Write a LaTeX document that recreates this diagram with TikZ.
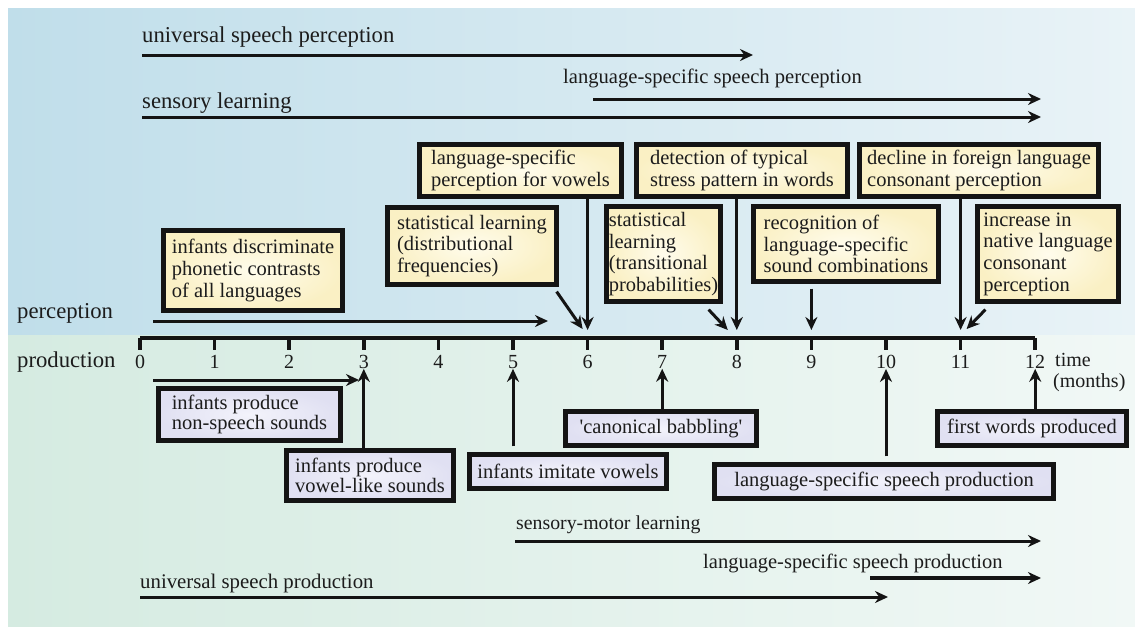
\documentclass[tikz,border=0pt]{standalone}
\usepackage{fontspec}
\setmainfont{Liberation Serif}[Ligatures=TeXOff]
\usetikzlibrary{arrows.meta}
\definecolor{bluel}{RGB}{192,222,234}
\definecolor{bluer}{RGB}{233,243,247}
\definecolor{greenl}{RGB}{213,235,225}
\definecolor{greenr}{RGB}{241,248,246}
\definecolor{inkc}{RGB}{20,20,20}
\definecolor{txt}{RGB}{28,28,28}
\definecolor{yout}{RGB}{250,240,196}
\definecolor{yin}{RGB}{255,252,236}
\definecolor{pout}{RGB}{224,224,242}
\definecolor{pin}{RGB}{243,243,251}
\begin{document}
\begin{tikzpicture}[x=1pt,y=-1pt,
  ink/.style={draw=inkc, line width=4.2pt},
  ybox/.style={ink, inner color=yin, outer color=yout, align=left, inner sep=0pt, text=txt, font=\fontsize{20.5}{21.6}\selectfont},
  pbox/.style={ink, inner color=pin, outer color=pout, align=left, inner sep=0pt, text=txt, font=\fontsize{20.5}{20.4}\selectfont},
  arr/.style={draw=inkc, line width=3pt, -{Stealth[length=13pt,width=12pt]}},
  biglbl/.style={anchor=west, inner sep=0pt, text=txt, font=\fontsize{22.7}{24}\selectfont},
  lbl/.style={anchor=west, inner sep=0pt, text=txt, font=\fontsize{20.5}{22}\selectfont},
  ticklbl/.style={inner sep=0pt, text=txt, font=\fontsize{20}{22}\selectfont},
  axisline/.style={draw=inkc, line width=3.5pt}
]
\useasboundingbox (0,0) rectangle (1135,627);
\fill[left color=bluel, right color=bluer] (8,8) rectangle (1135,335);
\fill[left color=greenl, right color=greenr] (8,335) rectangle (1135,626);

% top long arrows
\node[biglbl] (uspl) at (142,37) {universal speech perception};
\coordinate (up0) at (142,55); \coordinate (up1) at (753,55);
\draw[arr] (up0) -- (up1);
\node[lbl, font=\fontsize{20.6}{22}\selectfont] (lspl) at (563,78) {language-specific speech perception};
\coordinate (lp0) at (593,99); \coordinate (lp1) at (1041,99);
\draw[arr] (lp0) -- (lp1);
\node[biglbl] (sll) at (142,103) {sensory learning};
\coordinate (sl0) at (142,117); \coordinate (sl1) at (1041,117);
\draw[arr] (sl0) -- (sl1);

% side labels
\node[biglbl] (perc) at (17,313) {perception};
\node[biglbl] (prod) at (17,362) {production};

% axis
\foreach \m in {0,...,12} {
  \coordinate (t\m) at ({140+74.6*\m},338);
  \node[ticklbl] (l\m) at ({140+74.6*\m},362) {\m};
}
\draw[axisline] (t0) -- (t12);
\foreach \m in {0,...,12} { \draw[axisline] (t\m) -- ++(0,12); }
\node[lbl, font=\fontsize{20}{22}\selectfont] (time) at (1055,360) {time};
\node[lbl, font=\fontsize{20}{22}\selectfont] (months) at (1053,383) {(months)};

% perception boxes
\node[ybox, minimum width=179pt, minimum height=80pt] (disc) at (253,270.5) {infants discriminate\\phonetic contrasts\\of all languages};
\node[ybox, minimum width=169pt, minimum height=77pt] (dist) at (472,246) {statistical learning\\(distributional\\frequencies)};
\node[ybox, minimum width=202pt, minimum height=52pt] (vow) at (520.5,170.5) {language-specific\\perception for vowels};
\node[ybox, minimum width=114pt, minimum height=95pt] (trans) at (663.5,254) {statistical\\learning\\(transitional\\probabilities)};
\node[ybox, minimum width=211pt, minimum height=52pt] (det) at (742,170.5) {detection of typical\\stress pattern in words};
\node[ybox, minimum width=185pt, minimum height=75pt] (recog) at (846,244) {recognition of\\language-specific\\sound combinations};
\node[ybox, minimum width=239pt, minimum height=52pt] (decl) at (979,170.5) {decline in foreign language\\consonant perception};
\node[ybox, minimum width=141pt, minimum height=95pt] (incr) at (1048,254) {increase in\\native language\\consonant\\perception};

% perception arrows
\coordinate (pa0) at (153,321); \coordinate (pa1) at (548,321);
\draw[arr] (pa0) -- (pa1);
\draw[arr, shorten >=8pt] (vow.south -| t6) -- (t6);
\draw[arr] ([xshift=-2pt,yshift=-5pt]dist.south east) -- ([xshift=-5pt,yshift=9pt]t6);
\draw[arr, shorten >=8pt] (det.south -| t8) -- (t8);
\draw[arr] ([xshift=-14pt,yshift=-6pt]trans.south east) -- ([xshift=-9pt,yshift=8pt]t8);
\draw[arr, shorten <=5pt, shorten >=8pt] (recog.south -| t9) -- (t9);
\draw[arr, shorten >=8pt] (decl.south -| t11) -- (t11);
\draw[arr] ([xshift=10pt,yshift=-6pt]incr.south west) -- ([xshift=6pt,yshift=9pt]t11);

% production boxes
\node[pbox, minimum width=182pt, minimum height=52pt] (nonsp) at (249.5,414.5) {infants produce\\non-speech sounds};
\node[pbox, minimum width=167pt, minimum height=50pt] (vowl) at (370,475.5) {infants produce\\vowel-like sounds};
\node[pbox, minimum width=197pt, minimum height=34pt] (imit) at (568,471.5) {infants imitate vowels};
\node[pbox, minimum width=191pt, minimum height=34pt] (canon) at (661,428.5) {'canonical babbling'};
\node[pbox, minimum width=339pt, minimum height=34pt] (lsp) at (884,481.5) {language-specific speech production};
\node[pbox, minimum width=189pt, minimum height=34pt] (first) at (1032,428.5) {first words produced};

% production arrows
\coordinate (ns0) at (153,380); \coordinate (ns1) at (359,380);
\draw[arr] (ns0) -- (ns1);
\draw[arr] (vowl.north -| l3.south) -- (l3.south);
\draw[arr, shorten <=6pt] (imit.north -| l5.south) -- (l5.south);
\draw[arr] (canon.north -| l7.south) -- (l7.south);
\draw[arr, shorten <=6pt] (lsp.north -| l10.south) -- (l10.south);
\draw[arr] (first.north -| l12.south) -- (l12.south);

% bottom long arrows
\node[lbl, font=\fontsize{19.8}{22}\selectfont] (sml) at (516,525) {sensory-motor learning};
\coordinate (sm0) at (515,541); \coordinate (sm1) at (1041,541);
\draw[arr] (sm0) -- (sm1);
\node[lbl] (lspl2) at (703,563) {language-specific speech production};
\coordinate (ls0) at (870,578); \coordinate (ls1) at (1041,578);
\draw[arr, line width=4.5pt] (ls0) -- (ls1);
\node[lbl, font=\fontsize{20.8}{22}\selectfont] (uspr) at (140,583) {universal speech production};
\coordinate (us0) at (140,597); \coordinate (us1) at (888,597);
\draw[arr] (us0) -- (us1);
\end{tikzpicture}
\end{document}
